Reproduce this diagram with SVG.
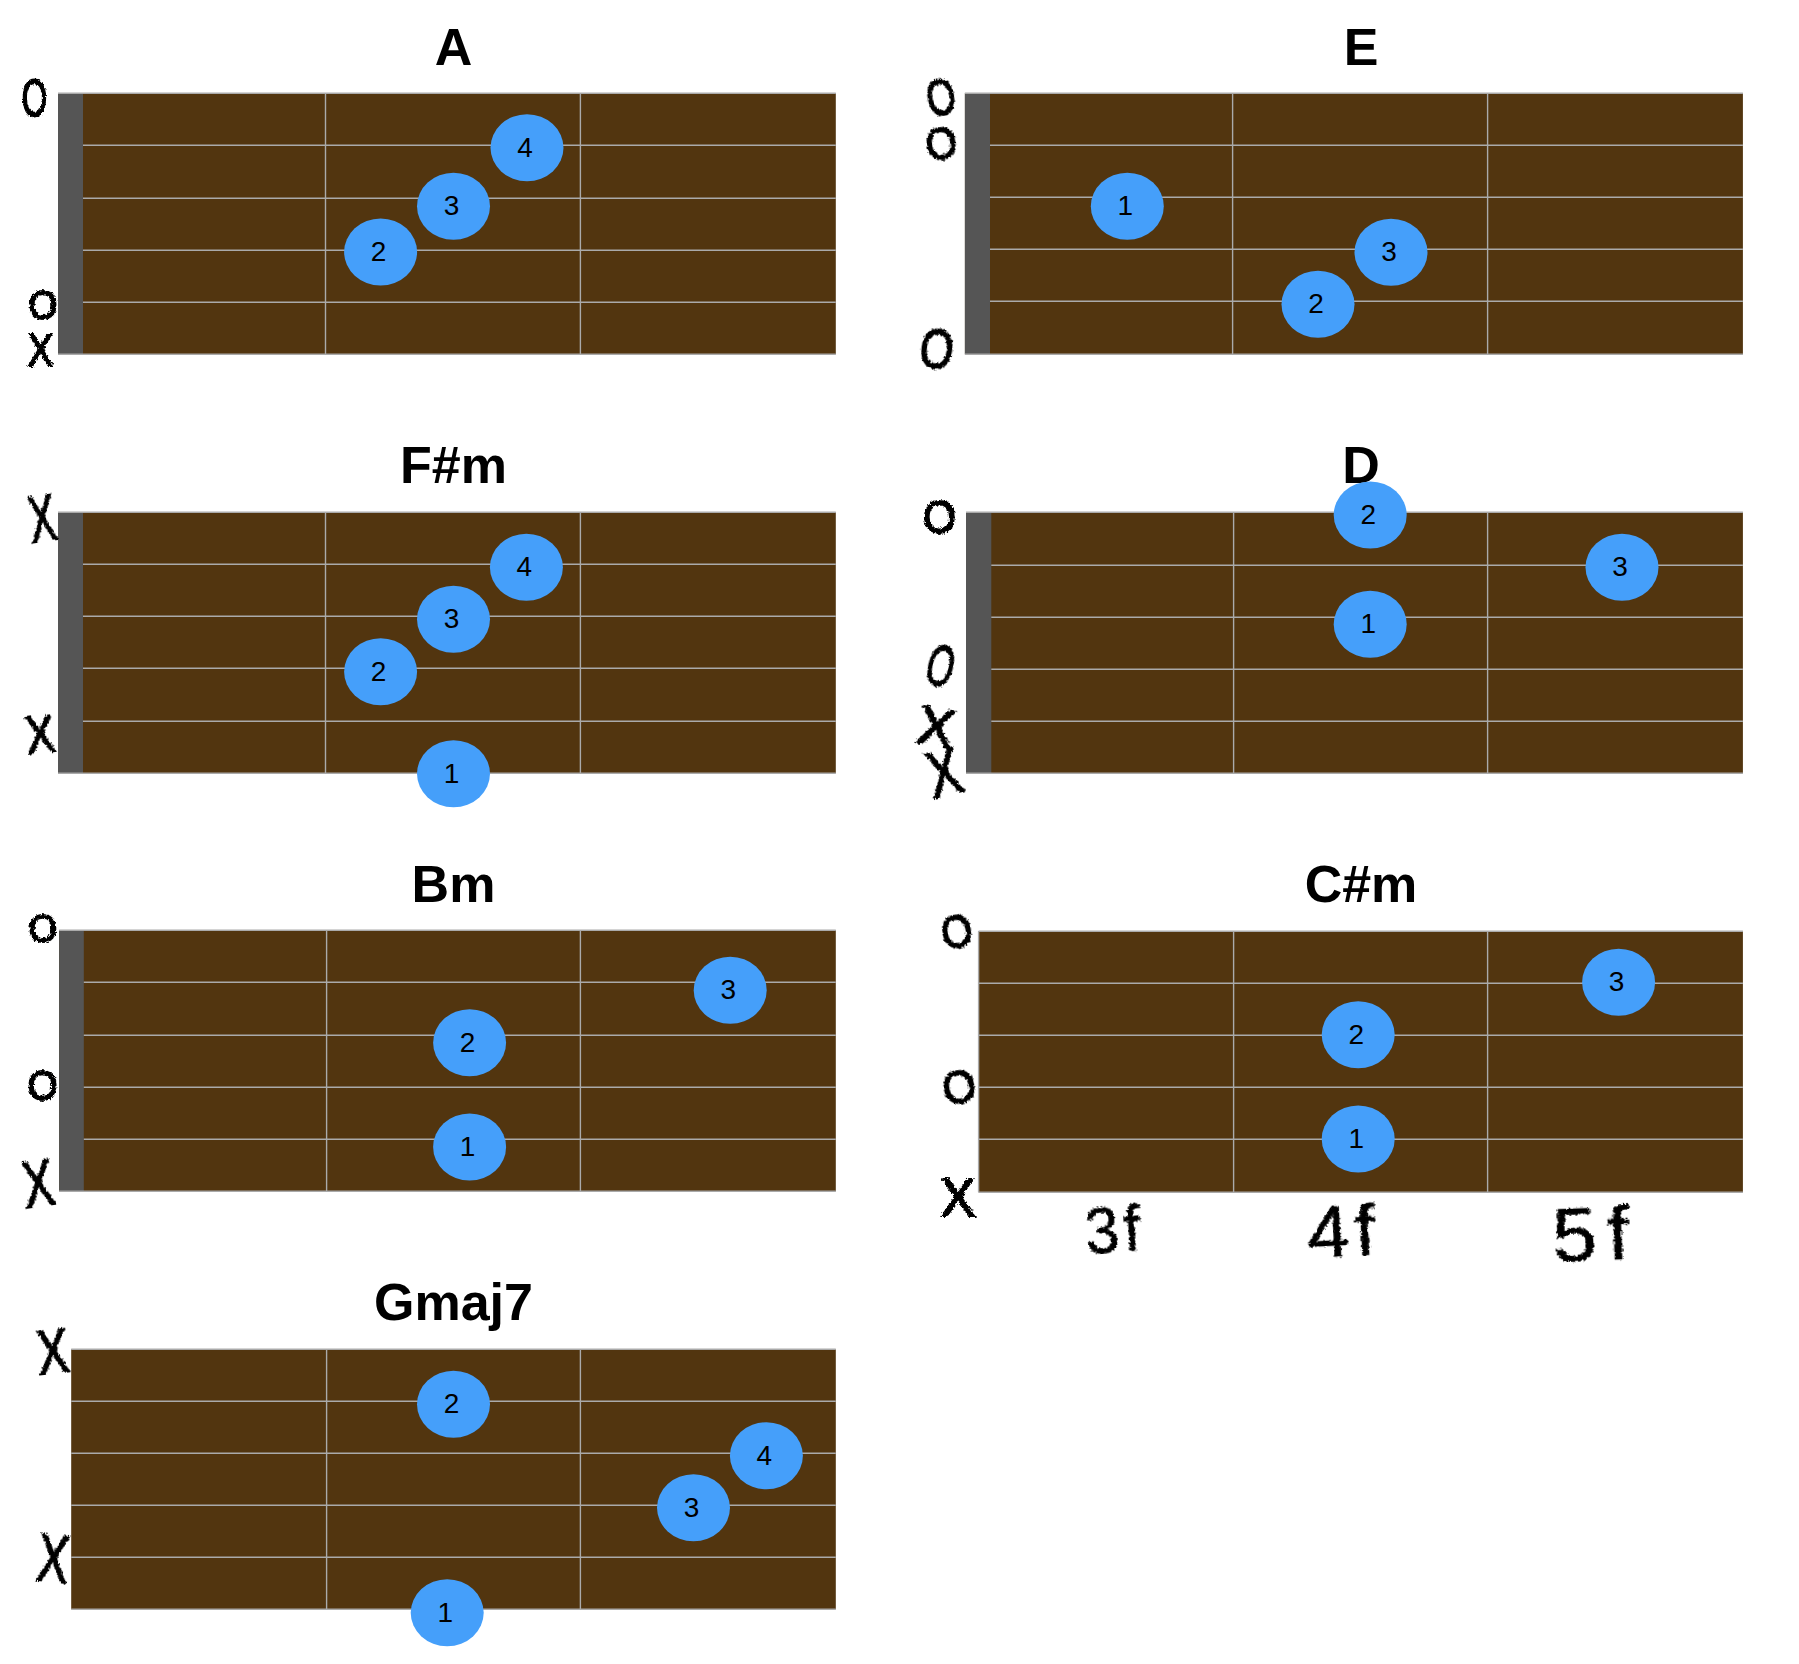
<svg xmlns="http://www.w3.org/2000/svg" width="1799" height="1664" viewBox="0 0 1799 1664">
<style>
text{font-family:"Liberation Sans",Arial,sans-serif}
.t{font-size:52px;font-weight:700;text-anchor:middle;fill:#000}
.b{fill:#52350f}
.n{fill:#555}
.l{stroke:#aaa;stroke-width:1.4;fill:none}
.d{fill:#459ffa}
.f{font-size:28px;text-anchor:middle;fill:#000}
.h{text-anchor:middle;fill:#000;stroke:#000;stroke-width:1.8;filter:url(#rough)}
.w{stroke-width:.6;letter-spacing:5px}
</style>
<defs>
<filter id="rough" x="-30%" y="-30%" width="160%" height="160%">
<feTurbulence type="fractalNoise" baseFrequency="0.4" numOctaves="2" seed="4"/>
<feDisplacementMap in="SourceGraphic" scale="5" xChannelSelector="R" yChannelSelector="G"/>
</filter>
</defs>
<rect width="1799" height="1664" fill="#fff"/>

<g id="chord-A">
<text class="t" x="453.5" y="65">A</text>
<rect class="b" x="58" y="93.3" width="777.8" height="261"/>
<rect class="n" x="58" y="93.3" width="25" height="261"/>
<path class="l" d="M58 93.3H835.8M58 354.3H835.8M83 145.3H835.8M83 198.3H835.8M83 250.3H835.8M83 302.3H835.8M325.5 93.3V354.3M580.4 93.3V354.3"/>
<ellipse class="d" cx="527" cy="147.7" rx="36.5" ry="33.5"/><text class="f" x="525" y="156.7">4</text>
<ellipse class="d" cx="453.5" cy="206.3" rx="36.5" ry="33.5"/><text class="f" x="451.5" y="215.3">3</text>
<ellipse class="d" cx="380.6" cy="252" rx="36.5" ry="33.5"/><text class="f" x="378.6" y="261">2</text>
<text class="h" font-size="51" y="18" transform="translate(34.5 98) scale(.64 1)">O</text>
<text class="h" font-size="40" y="14.5" transform="translate(43 304) scale(.93 1)">O</text>
<text class="h" font-size="46" y="16.5" transform="translate(40.5 349.5) scale(.83 1)">X</text>
</g>

<g id="chord-E">
<text class="t" x="1361" y="65">E</text>
<rect class="b" x="964.9" y="93.3" width="778" height="261"/>
<rect class="n" x="964.9" y="93.3" width="25.1" height="261"/>
<path class="l" d="M964.9 93.3H1742.9M964.9 354.3H1742.9M990 145.3H1742.9M990 197.3H1742.9M990 249.3H1742.9M990 301.3H1742.9M1232.6 93.3V354.3M1487.6 93.3V354.3"/>
<ellipse class="d" cx="1127.3" cy="206.3" rx="36.5" ry="33.5"/><text class="f" x="1125.3" y="215.3">1</text>
<ellipse class="d" cx="1391" cy="252.3" rx="36.5" ry="33.5"/><text class="f" x="1389" y="261.3">3</text>
<ellipse class="d" cx="1318" cy="304.3" rx="36.5" ry="33.5"/><text class="f" x="1316" y="313.3">2</text>
<text class="h" font-size="50" y="18" transform="translate(941 97) rotate(-10) scale(.74 1)">O</text>
<text class="h" font-size="45" y="16" transform="translate(941 143) rotate(-8) scale(.89 1)">O</text>
<text class="h" font-size="56" y="20" transform="translate(937 348) rotate(8) scale(.77 1)">O</text>
</g>

<g id="chord-Fsharpm">
<text class="t" x="453.5" y="482.5">F#m</text>
<rect class="b" x="58" y="512.3" width="777.8" height="261"/>
<rect class="n" x="58" y="512.3" width="25" height="261"/>
<path class="l" d="M58 512.3H835.8M58 773.3H835.8M83 564.3H835.8M83 616.3H835.8M83 668.3H835.8M83 721.3H835.8M325.5 512.3V773.3M580.4 512.3V773.3"/>
<ellipse class="d" cx="526.4" cy="567.3" rx="36.5" ry="33.5"/><text class="f" x="524.4" y="576.3">4</text>
<ellipse class="d" cx="453.5" cy="619.3" rx="36.5" ry="33.5"/><text class="f" x="451.5" y="628.3">3</text>
<ellipse class="d" cx="380.6" cy="671.7" rx="36.5" ry="33.5"/><text class="f" x="378.6" y="680.7">2</text>
<ellipse class="d" cx="453.5" cy="773.7" rx="36.5" ry="33.5"/><text class="f" x="451.5" y="782.7">1</text>
<text class="h" font-size="64" y="23" transform="translate(42 518) rotate(-8) scale(.62 1)">X</text>
<text class="h" font-size="51" y="18.5" transform="translate(40 733.5) rotate(-6) scale(.85 1)">X</text>
</g>

<g id="chord-D">
<text class="t" x="1361" y="483">D</text>
<rect class="b" x="966" y="512.3" width="776.9" height="261"/>
<rect class="n" x="966" y="512.3" width="25.3" height="261"/>
<path class="l" d="M966 512.3H1742.9M966 773.3H1742.9M991.3 565.3H1742.9M991.3 617.3H1742.9M991.3 669.3H1742.9M991.3 721.3H1742.9M1233.6 512.3V773.3M1487.6 512.3V773.3"/>
<ellipse class="d" cx="1370.2" cy="515" rx="36.5" ry="33.5"/><text class="f" x="1368.2" y="524">2</text>
<ellipse class="d" cx="1622" cy="567.3" rx="36.5" ry="33.5"/><text class="f" x="1620" y="576.3">3</text>
<ellipse class="d" cx="1370.2" cy="624.3" rx="36.5" ry="33.5"/><text class="f" x="1368.2" y="633.3">1</text>
<text class="h" font-size="46" y="16.5" transform="translate(939.5 516) scale(.93 1)">O</text>
<text class="h" font-size="58" y="21" transform="translate(941 665) rotate(15) scale(.6 1)">O</text>
<text class="h" font-size="54" y="19.5" transform="translate(936.5 725.5) rotate(10) scale(1.03 1)">X</text>
<text class="h" font-size="65" y="23.5" transform="translate(943.5 771) rotate(-14) scale(.76 1)">X</text>
</g>

<g id="chord-Bm">
<text class="t" x="453.5" y="902">Bm</text>
<rect class="b" x="59.1" y="930.3" width="776.7" height="261"/>
<rect class="n" x="59.1" y="930.3" width="24.7" height="261"/>
<path class="l" d="M59.1 930.3H835.8M59.1 1191.3H835.8M83.8 982.3H835.8M83.8 1035.3H835.8M83.8 1087.3H835.8M83.8 1139.3H835.8M326.6 930.3V1191.3M580.4 930.3V1191.3"/>
<ellipse class="d" cx="730.2" cy="990.3" rx="36.5" ry="33.5"/><text class="f" x="728.2" y="999.3">3</text>
<ellipse class="d" cx="469.6" cy="1042.7" rx="36.5" ry="33.5"/><text class="f" x="467.6" y="1051.7">2</text>
<ellipse class="d" cx="469.6" cy="1147" rx="36.5" ry="33.5"/><text class="f" x="467.6" y="1156">1</text>
<text class="h" font-size="39" y="14" transform="translate(43 927.5) scale(.95 1)">O</text>
<text class="h" font-size="43" y="15.5" transform="translate(42.5 1084) scale(.9 1)">O</text>
<text class="h" font-size="64" y="23" transform="translate(38 1183) rotate(-8) scale(.72 1)">X</text>
</g>

<g id="chord-Csharpm">
<text class="t" x="1361" y="902">C#m</text>
<rect class="b" x="978.6" y="931.3" width="764.3" height="261"/>
<path class="l" d="M978.6 931.3H1742.9M978.6 1192.3H1742.9M978.6 983.3H1742.9M978.6 1035.3H1742.9M978.6 1087.3H1742.9M978.6 1139.3H1742.9M1233.6 931.3V1192.3M1487.6 931.3V1192.3M978.6 931.3V1192.3"/>
<ellipse class="d" cx="1618.6" cy="982.3" rx="36.5" ry="33.5"/><text class="f" x="1616.6" y="991.3">3</text>
<ellipse class="d" cx="1358.2" cy="1034.7" rx="36.5" ry="33.5"/><text class="f" x="1356.2" y="1043.7">2</text>
<ellipse class="d" cx="1358.2" cy="1139" rx="36.5" ry="33.5"/><text class="f" x="1356.2" y="1148">1</text>
<text class="h" font-size="47" y="17" transform="translate(956.5 930.5) rotate(-10) scale(.85 1)">O</text>
<text class="h" font-size="46" y="16.5" transform="translate(959 1086) rotate(-10) scale(.93 1)">O</text>
<text class="h" font-size="54" y="19.5" transform="translate(958 1196) scale(.97 1)">X</text>
<text class="h w" font-size="64" y="23" transform="translate(1115 1229) rotate(-4) scale(.95 1)">3f</text>
<text class="h w" font-size="72" y="26" transform="translate(1344 1230) rotate(-3) scale(1.05 1)">4f</text>
<text class="h w" font-size="76" y="27" transform="translate(1596 1233) rotate(-2) scale(1.05 1)" style="letter-spacing:10px">5f</text>
</g>

<g id="chord-Gmaj7">
<text class="t" x="453.5" y="1320">Gmaj7</text>
<rect class="b" x="71.2" y="1349.3" width="764.6" height="260"/>
<path class="l" d="M71.2 1349.3H835.8M71.2 1609.3H835.8M71.2 1401.3H835.8M71.2 1453.3H835.8M71.2 1505.3H835.8M71.2 1557.3H835.8M326.6 1349.3V1609.3M580.4 1349.3V1609.3"/>
<ellipse class="d" cx="453.5" cy="1404.3" rx="36.5" ry="33.5"/><text class="f" x="451.5" y="1413.3">2</text>
<ellipse class="d" cx="766.4" cy="1455.7" rx="36.5" ry="33.5"/><text class="f" x="764.4" y="1464.7">4</text>
<ellipse class="d" cx="693.5" cy="1507.7" rx="36.5" ry="33.5"/><text class="f" x="691.5" y="1516.7">3</text>
<ellipse class="d" cx="447.2" cy="1612.7" rx="36.5" ry="33.5"/><text class="f" x="445.2" y="1621.7">1</text>
<text class="h" font-size="62" y="22.5" transform="translate(52.5 1350) rotate(-6) scale(.75 1)">X</text>
<text class="h" font-size="66" y="24" transform="translate(53.5 1557.5) rotate(6) scale(.7 1)">X</text>
</g>
</svg>
